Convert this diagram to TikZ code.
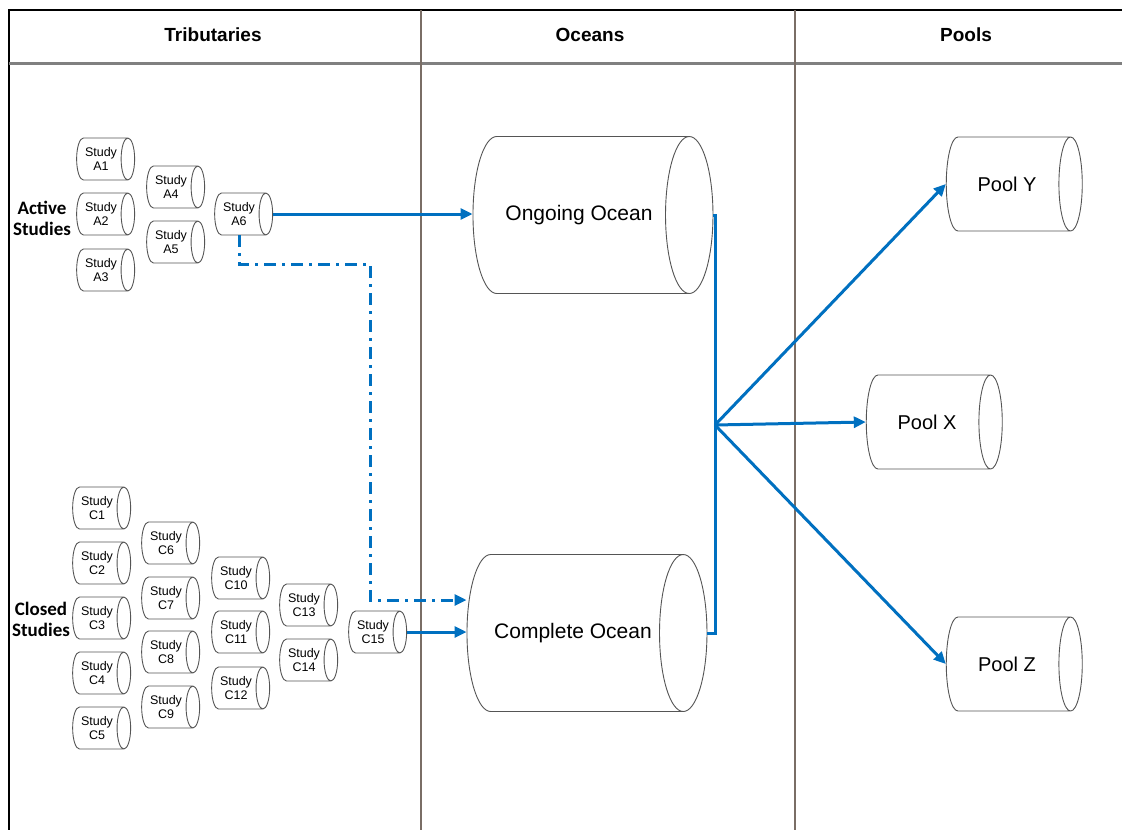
\documentclass[tikz,border=0pt]{standalone}
\usepackage{fontspec}
\setmainfont{Liberation Sans}
\newfontfamily\labelfont{Carlito}
\usepackage{xcolor}
\usetikzlibrary{shapes.geometric, arrows.meta, positioning, calc}

\definecolor{flowblue}{HTML}{0070C0}
\definecolor{lanegray}{HTML}{7A6E66}
\definecolor{edgegray}{HTML}{555555}

\tikzset{
  drum/.style={cylinder, shape border rotate=0, draw=edgegray, fill=white,
    line width=0.9pt, align=center, inner sep=1pt},
  study/.style={drum, minimum height=58, minimum width=42, aspect=0.55,
    font=\fontsize{12.5}{13.5}\selectfont},
  ocean/.style={drum, minimum height=240, minimum width=157, aspect=2.2,
    font=\fontsize{21}{24}\selectfont},
  pool/.style={drum, minimum height=136, minimum width=94, aspect=1.4,
    font=\fontsize{20}{23}\selectfont},
  flow/.style={flowblue, line width=3pt,
    -{Triangle[length=12pt, width=11pt]}},
  lane/.style={lanegray, line width=2pt},
  group/.style={font=\labelfont\bfseries\fontsize{19}{21}\selectfont, align=center},
  heading/.style={font=\bfseries\fontsize{19}{21}\selectfont}
}

\begin{document}
\begin{tikzpicture}[x=1pt, y=-1pt]
  \useasboundingbox (0,0) rectangle (1122,830);
  \fill[white] (0,0) rectangle (1122,830);

  % swimlanes
  \draw[line width=1.8pt] (1122,10) -- (9,10) -- (9,830);
  \draw[gray, line width=3pt] (9,63) -- (1122,63);
  \draw[lane] (421,10) -- (421,830);
  \draw[lane] (795,10) -- (795,830);
  \node[heading] (hT) at (213,35) {Tributaries};
  \node[heading] (hO) at (590,35) {Oceans};
  \node[heading] (hP) at (966,35) {Pools};

  % active studies
  \node[group] (active) at (42,218) {Active\\Studies};
  \node[study] (A1) at (101,159) {Study\\A1};
  \node[study] (A2) at (101,214) {Study\\A2};
  \node[study] (A3) at (101,270) {Study\\A3};
  \node[study] (A4) at (171,187) {Study\\A4};
  \node[study] (A5) at (171,242) {Study\\A5};
  \node[study] (A6) at (239,214) {Study\\A6};

  % closed studies
  \node[group] (closed) at (41,619) {Closed\\Studies};
  \foreach \i/\y in {1/508,2/563,3/618,4/673,5/728}
    \node[study] (C\i) at (97,\y) {Study\\C\i};
  \foreach \i/\y in {6/543,7/598,8/652,9/707}
    \node[study] (C\i) at (166,\y) {Study\\C\i};
  \foreach \i/\y in {10/578,11/632,12/688}
    \node[study] (C\i) at (236,\y) {Study\\C\i};
  \node[study] (C13) at (304,605) {Study\\C13};
  \node[study] (C14) at (304,660) {Study\\C14};
  \node[study] (C15) at (373,632) {Study\\C15};

  % oceans and pools
  \node[ocean] (ongoing) at (579,215) {Ongoing Ocean};
  \node[ocean] (complete) at (573,633) {Complete Ocean};
  \node[pool] (poolY) at (1007,184) {Pool Y};
  \node[pool] (poolX) at (927,422) {Pool X};
  \node[pool] (poolZ) at (1007,664) {Pool Z};
  \coordinate (hub) at (715,425);

  \draw[flow] (A6.east) -- (ongoing.west |- A6.east);
  \draw[flow] (C15.east) -- (complete.west |- C15.east);
  \draw[flow, dash pattern=on 12pt off 6pt on 3pt off 6pt]
    (A6.south) |- (370,264) |- ($(complete.west)+(0,-33)$);
  \draw[flowblue, line width=3pt, line join=miter]
    (ongoing.east) -| (hub) |- (complete.east);
  \draw[flow] (hub) -- (poolY.west);
  \draw[flow] (hub) -- (poolX.west);
  \draw[flow] (hub) -- (poolZ.west);
\end{tikzpicture}
\end{document}
